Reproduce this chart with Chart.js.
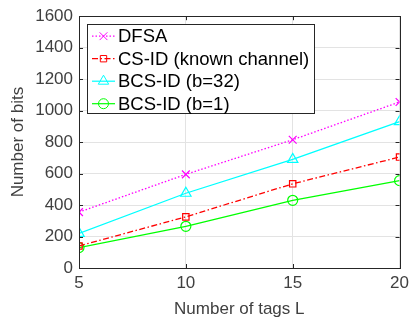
<!DOCTYPE html>
<html>
<head>
<meta charset="utf-8">
<script src="https://cdn.jsdelivr.net/npm/chart.js@4"></script>
<style>
  html, body { margin: 0; padding: 0; background: #fff; }
  #wrap { width: 414px; height: 320px; }
</style>
</head>
<body>
<div id="wrap"><canvas id="chart" width="414" height="320"></canvas></div>
<script>
const tags = [5, 10, 15, 20];
const dfsa = [355, 595, 815, 1055];
const csId = [140, 325, 535, 705];
const bcs32 = [220, 475, 690, 930];
const bcs1 = [130, 265, 430, 555];
const seriesNames = ['DFSA', 'CS-ID (known channel)', 'BCS-ID (b=32)', 'BCS-ID (b=1)'];

const FONT = '"Liberation Sans", Arial, Helvetica, sans-serif';
const TXT = '#404040';

const toPoints = (vals) => vals.map((v, i) => ({ x: tags[i], y: v }));

// inward ticks + black box, like the matlab axes
const framePlugin = {
  id: 'frame',
  afterDraw(chart) {
    const { ctx, chartArea: a, scales } = chart;
    ctx.save();
    ctx.strokeStyle = '#262626';
    ctx.lineWidth = 1;
    const len = 4;
    ctx.beginPath();
    scales.x.ticks.forEach((t) => {
      const px = Math.round(scales.x.getPixelForValue(t.value)) + 0.5;
      ctx.moveTo(px, a.bottom); ctx.lineTo(px, a.bottom - len);
      ctx.moveTo(px, a.top); ctx.lineTo(px, a.top + len);
    });
    scales.y.ticks.forEach((t) => {
      const py = Math.round(scales.y.getPixelForValue(t.value)) + 0.5;
      ctx.moveTo(a.left, py); ctx.lineTo(a.left + len, py);
      ctx.moveTo(a.right, py); ctx.lineTo(a.right - len, py);
    });
    ctx.stroke();
    ctx.strokeRect(Math.round(a.left) + 0.5, Math.round(a.top) + 0.5,
      Math.round(a.right - a.left), Math.round(a.bottom - a.top));
    ctx.restore();
  },
};

// legend box drawn by hand so each entry shows line + marker
const legendPlugin = {
  id: 'boxLegend',
  afterDraw(chart) {
    const { ctx, chartArea: a } = chart;
    const x0 = a.left + 8, y0 = a.top + 8, w = 227, rowH = 22.5;
    const h = rowH * chart.data.datasets.length - 1;
    ctx.save();
    ctx.fillStyle = '#fff';
    ctx.fillRect(x0, y0, w, h);
    ctx.strokeStyle = '#262626';
    ctx.lineWidth = 1;
    ctx.strokeRect(Math.round(x0) + 0.5, Math.round(y0) + 0.5, w, Math.round(h));
    ctx.font = '18.5px ' + FONT;
    ctx.textBaseline = 'middle';
    chart.data.datasets.forEach((ds, i) => {
      const cy = y0 + 12 + i * rowH;
      ctx.strokeStyle = ds.borderColor;
      ctx.lineWidth = 1.2;
      ctx.setLineDash(ds.borderDash || []);
      ctx.beginPath();
      ctx.moveTo(x0 + 5, cy); ctx.lineTo(x0 + 28, cy);
      ctx.stroke();
      ctx.setLineDash([]);
      ctx.lineWidth = 1;
      ctx.fillStyle = 'rgba(0,0,0,0)';
      Chart.helpers.drawPoint(ctx, {
        pointStyle: ds.pointStyle, radius: ds.pointRadius, rotation: 0, borderWidth: 1,
      }, x0 + 16.5, cy);
      ctx.fillStyle = '#000';
      ctx.fillText(ds.label, x0 + 31, cy + 1);
    });
    ctx.restore();
  },
};

const makeSet = (label, data, color, style, dash, radius) => ({
  label,
  data: toPoints(data),
  borderColor: color,
  backgroundColor: 'rgba(0,0,0,0)',
  pointBorderColor: color,
  pointBackgroundColor: 'rgba(0,0,0,0)',
  pointStyle: style,
  pointRadius: radius,
  pointBorderWidth: 1.2,
  borderWidth: 1.3,
  borderDash: dash,
});

new Chart(document.querySelector('#chart'), {
  type: 'line',
  data: {
    datasets: [
      makeSet(seriesNames[0], dfsa, '#ff00ff', 'crossRot', [1.5, 2], 5.5),
      makeSet(seriesNames[1], csId, '#ff0000', 'rect', [6, 2.5, 1.5, 2.5], 4.5),
      makeSet(seriesNames[2], bcs32, '#00ffff', 'triangle', [], 6),
      makeSet(seriesNames[3], bcs1, '#00ff00', 'circle', [], 5),
    ],
  },
  options: {
    responsive: false,
    animation: false,
    layout: { padding: { top: 15, right: 12, left: 0, bottom: 0 } },
    plugins: { legend: { display: false }, tooltip: { enabled: false } },
    scales: {
      x: {
        type: 'linear',
        min: 5,
        max: 20,
        ticks: { stepSize: 5, color: TXT, font: { family: FONT, size: 17 }, padding: 5, callback: (v) => String(v) },
        grid: { color: '#e3e3e3', drawTicks: false, lineWidth: 1 },
        border: { display: false },
        title: { display: true, text: 'Number of tags L', color: TXT, font: { family: FONT, size: 17 }, padding: { top: 0, bottom: 0 } },
        afterFit: (s) => { s.height = 52; },
      },
      y: {
        min: 0,
        max: 1600,
        ticks: { stepSize: 200, color: TXT, font: { family: FONT, size: 17 }, padding: 6, callback: (v) => String(v) },
        grid: { color: '#e3e3e3', drawTicks: false, lineWidth: 1 },
        border: { display: false },
        title: { display: true, text: 'Number of bits', color: TXT, font: { family: FONT, size: 17 }, padding: { top: 8, bottom: 0 } },
        afterFit: (s) => { s.width = 79; },
      },
    },
  },
  plugins: [framePlugin, legendPlugin],
});
</script>
</body>
</html>
